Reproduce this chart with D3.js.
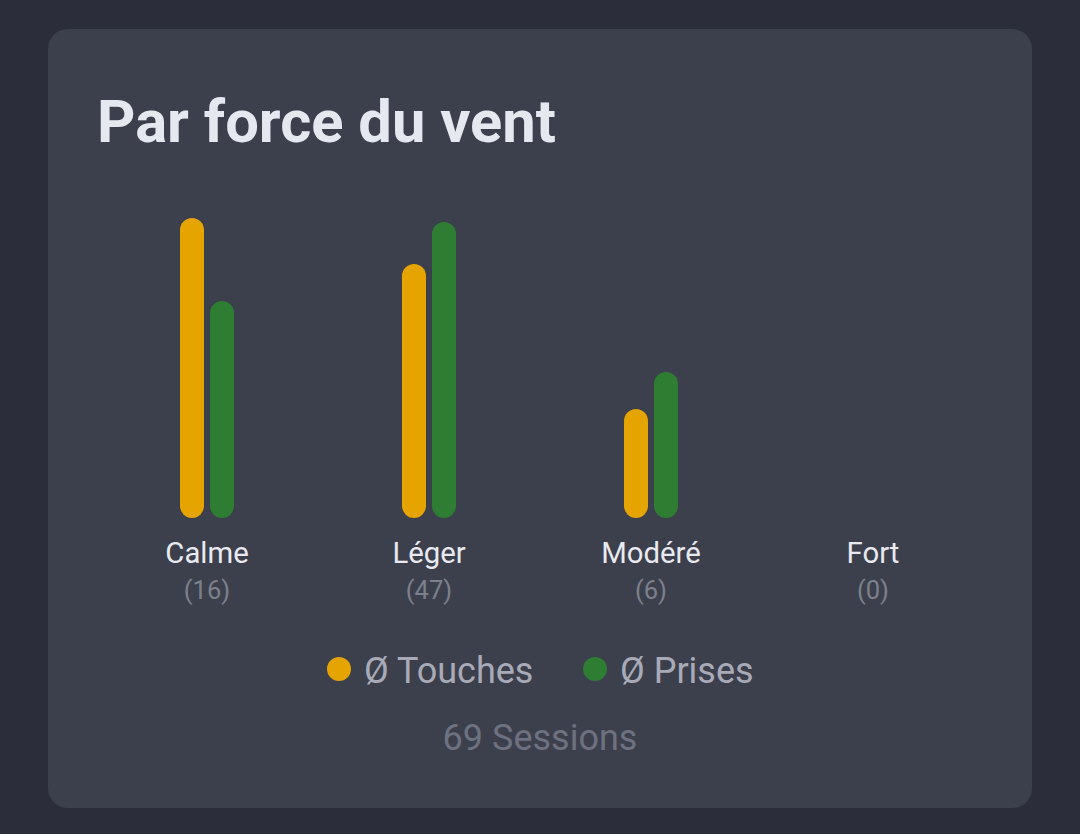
<!DOCTYPE html>
<html><head><meta charset="utf-8">
<script src="https://cdn.jsdelivr.net/npm/d3@7"></script>
<style>
html,body{margin:0;padding:0;background:#2b2e3a;}
svg{display:block;font-family:Roboto,"Noto Sans",sans-serif;}
</style></head><body>
<svg id="c" width="1080" height="834"></svg>
<script>
const categories = ["Calme","Léger","Modéré","Fort"];
const sessionCounts = [16,47,6,0];
const touches = [3.0,2.54,1.09,0];
const prises = [2.17,2.96,1.46,0];
const seriesNames = ["Ø Touches","Ø Prises"];
const seriesColors = ["#e5a400","#2e7d32"];
const totalSessions = 69;

const svg = d3.select("#c");
svg.append("rect").attr("x",0).attr("y",0).attr("width",1080).attr("height",834).attr("fill","#2b2e3a");
svg.append("rect").attr("x",48).attr("y",29).attr("width",984).attr("height",779).attr("rx",20).attr("fill","#3c404c");

svg.append("text").attr("x",97).attr("y",142).attr("font-size",59.7).attr("font-weight",700)
  .attr("fill","#e6e8ef").text("Par force du vent");

const x = d3.scaleBand().domain(categories).range([96,984]);
const y = d3.scaleLinear().domain([0,3.0]).range([518,218]);
const barW = 24, gap = 6;

const groups = svg.append("g").selectAll("g").data(categories).join("g")
  .attr("transform",d=>`translate(${x(d)+x.bandwidth()/2},0)`);

const series = [touches, prises];
series.forEach((vals,si)=>{
  groups.filter((d,i)=>vals[i]>0).append("rect")
    .attr("x", si===0 ? -barW-gap/2 : gap/2)
    .attr("width",barW)
    .attr("y",(d)=>y(vals[categories.indexOf(d)]))
    .attr("height",(d)=>y(0)-y(vals[categories.indexOf(d)]))
    .attr("rx",barW/2)
    .attr("fill",seriesColors[si]);
});

groups.append("text").attr("y",562.5).attr("text-anchor","middle").attr("font-size",29.3)
  .attr("fill","#e9eaf0").text(d=>d);
groups.append("text").attr("y",599).attr("text-anchor","middle").attr("font-size",25.5)
  .attr("fill","#7c808d").text((d,i)=>`(${sessionCounts[i]})`);

// legend
const legendX = [339, 595];
const lg = svg.append("g").selectAll("g").data(seriesNames).join("g")
  .attr("transform",(d,i)=>`translate(${legendX[i]},669)`);
lg.append("circle").attr("r",12).attr("fill",(d,i)=>seriesColors[i]);
lg.append("text").attr("x",25).attr("y",13.5).attr("font-size",36).attr("fill","#a8abb7").text(d=>d);

svg.append("text").attr("x",540).attr("y",750).attr("text-anchor","middle").attr("font-size",36)
  .attr("fill","#6d7180").text(`${totalSessions} Sessions`);
</script></body></html>
